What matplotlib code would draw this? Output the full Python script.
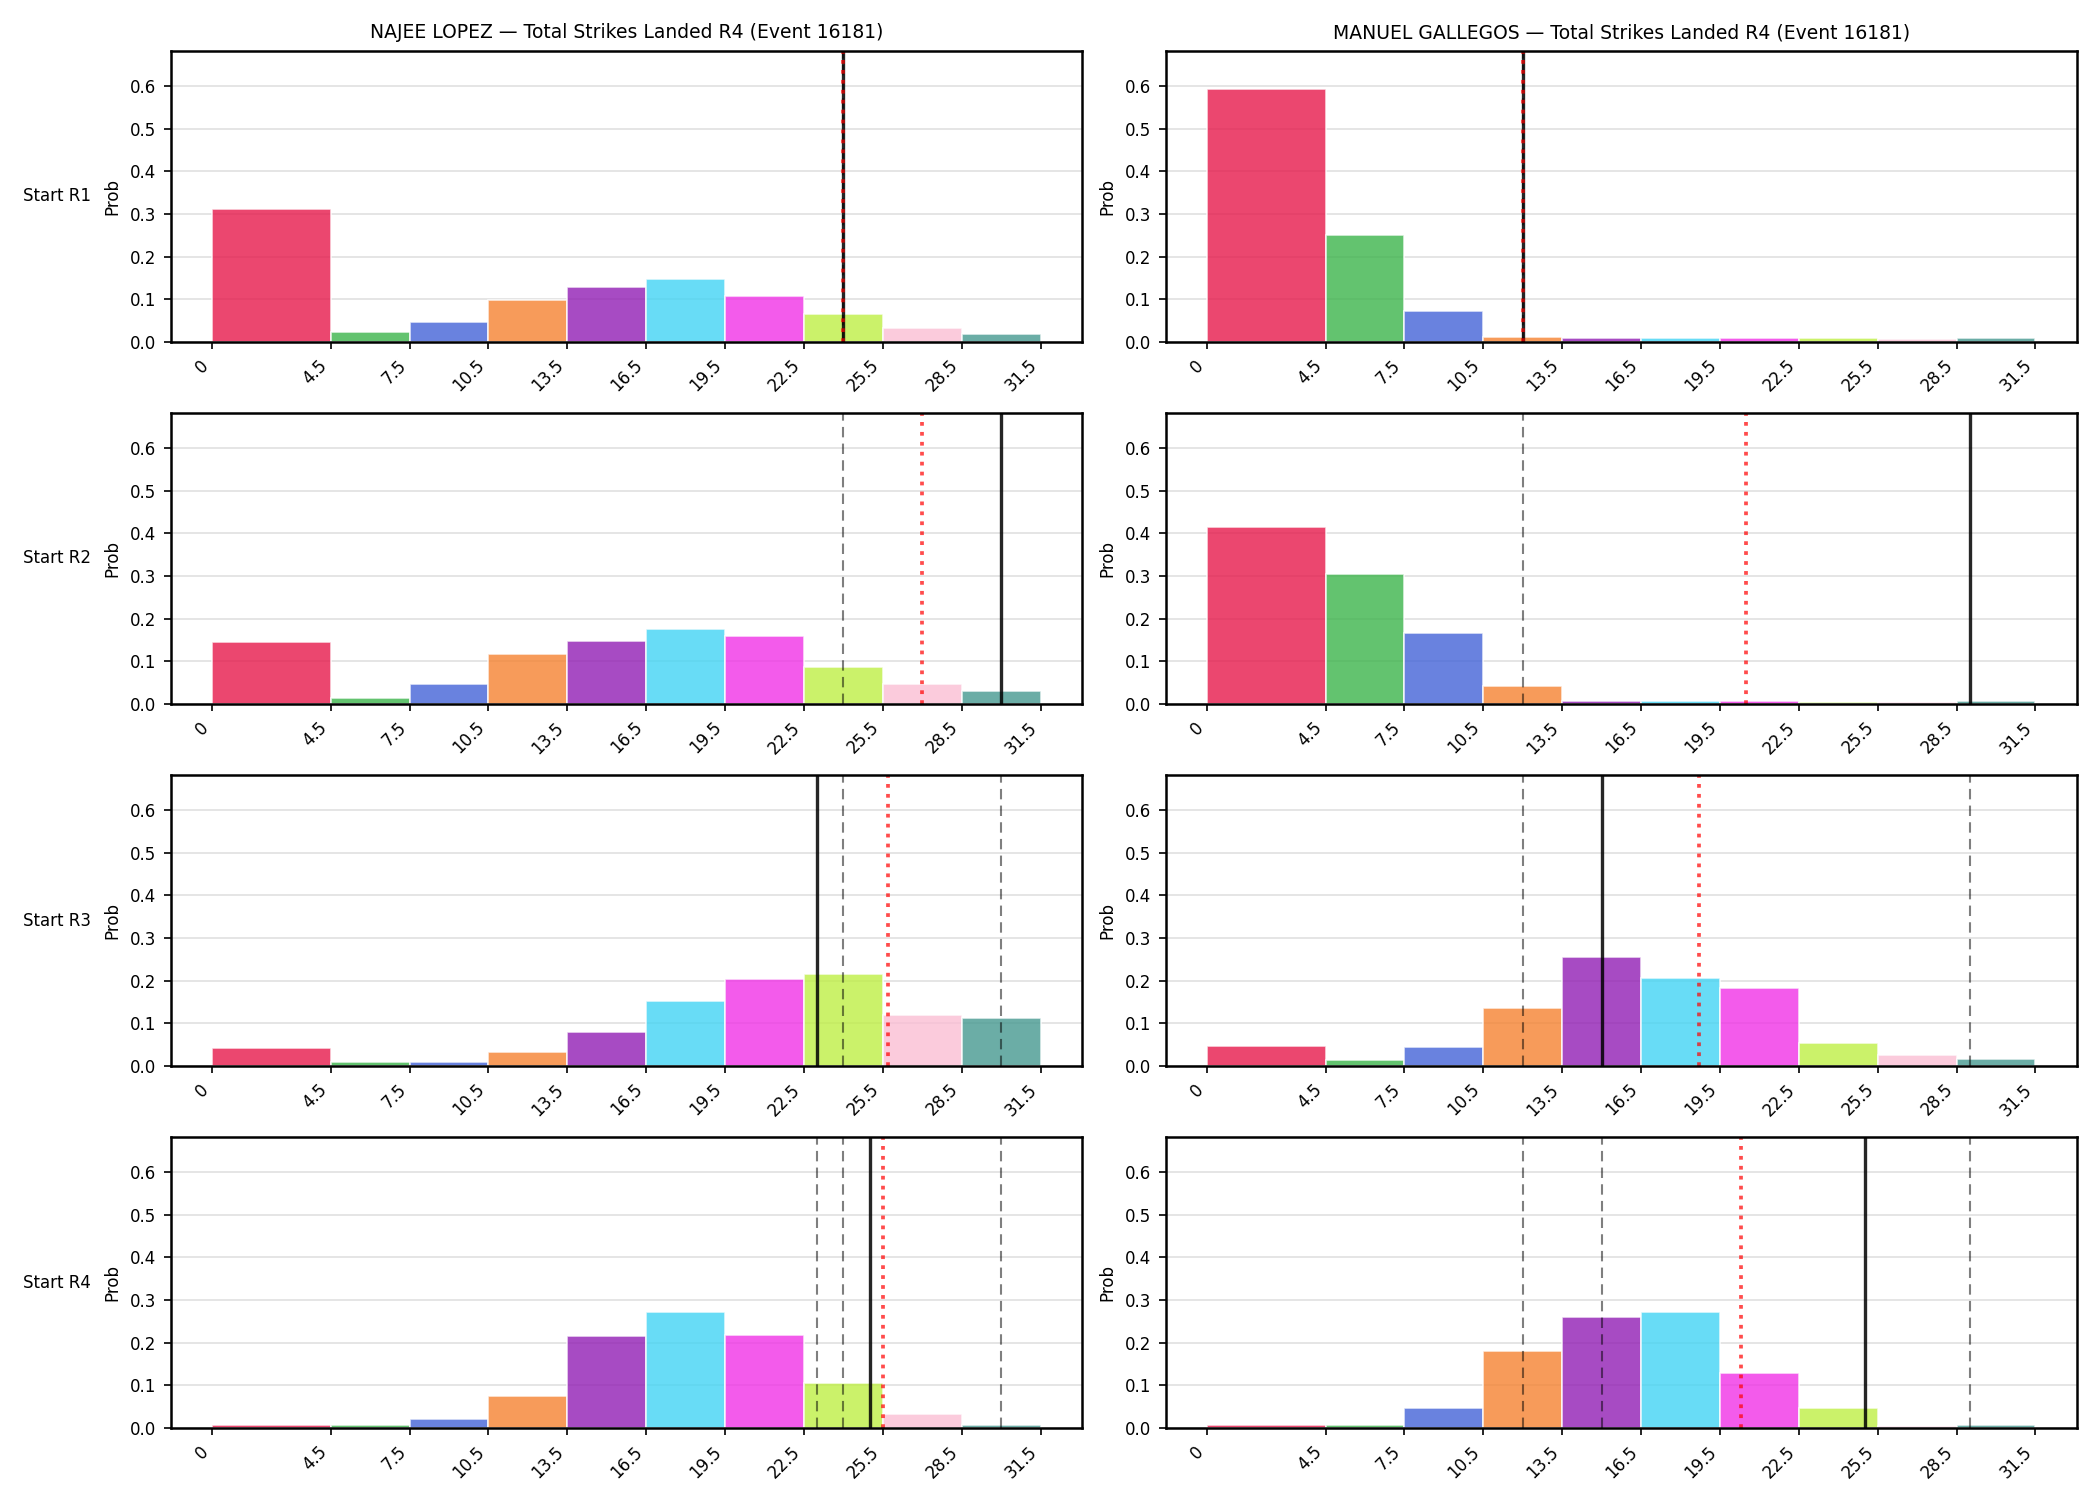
import numpy as np
import matplotlib
matplotlib.use("Agg")
import matplotlib.pyplot as plt

fighters = ["NAJEE LOPEZ", "MANUEL GALLEGOS"]
rows = ["Start R1", "Start R2", "Start R3", "Start R4"]
edges = [0, 4.5, 7.5, 10.5, 13.5, 16.5, 19.5, 22.5, 25.5, 28.5, 31.5]
tick_labels = ["0", "4.5", "7.5", "10.5", "13.5", "16.5", "19.5", "22.5", "25.5", "28.5", "31.5"]
colors = ["#e6194b", "#3cb44b", "#4363d8", "#f58231", "#911eb4",
          "#42d4f4", "#f032e6", "#bfef45", "#fabed4", "#469990"]

# probabilities per bin, [row][fighter]
lopez = [
    [0.311, 0.023, 0.046, 0.099, 0.129, 0.147, 0.107, 0.065, 0.032, 0.019],
    [0.145, 0.013, 0.046, 0.116, 0.148, 0.175, 0.159, 0.086, 0.046, 0.031],
    [0.042, 0.009, 0.009, 0.032, 0.079, 0.152, 0.204, 0.215, 0.119, 0.112],
    [0.006, 0.006, 0.020, 0.076, 0.215, 0.272, 0.218, 0.105, 0.034, 0.006],
]
gallegos = [
    [0.593, 0.251, 0.073, 0.011, 0.009, 0.009, 0.009, 0.008, 0.007, 0.009],
    [0.414, 0.305, 0.166, 0.043, 0.006, 0.006, 0.006, 0.005, 0.004, 0.006],
    [0.046, 0.013, 0.044, 0.135, 0.255, 0.206, 0.182, 0.053, 0.025, 0.016],
    [0.006, 0.006, 0.048, 0.180, 0.260, 0.272, 0.128, 0.048, 0.004, 0.006],
]

# reference lines: current (solid), projected mean (red dotted), earlier (dashed)
lopez_now = [24, 30, 23, 25]
lopez_mean = [24, 27, 25.7, 25.5]
lopez_prev = [[24], [24], [24, 30], [23, 24, 30]]
gallegos_now = [12, 29, 15, 25]
gallegos_mean = [12, 20.5, 18.7, 20.3]
gallegos_prev = [[12], [12], [12, 29], [12, 15, 29]]

data = [lopez, gallegos]
now = [lopez_now, gallegos_now]
mean = [lopez_mean, gallegos_mean]
prev = [lopez_prev, gallegos_prev]

widths = np.diff(edges)
ymax = max(max(max(r) for r in d) for d in data) * 1.15

fig, axes = plt.subplots(4, 2, figsize=(14, 10), dpi=150)
fig.subplots_adjust(left=0.0814, right=0.989, top=0.966, bottom=0.048,
                    wspace=0.092, hspace=0.245)

for j in range(2):
    for i in range(4):
        ax = axes[i, j]
        ax.bar(edges[:-1], data[j][i], width=widths, align="edge",
               color=colors, alpha=0.8, edgecolor="white", linewidth=0.8)
        for x in prev[j][i]:
            ax.axvline(x, color="black", linestyle=(0, (5, 3)), linewidth=1.0, alpha=0.5)
        ax.axvline(now[j][i], color="black", linewidth=1.6, alpha=0.85)
        ax.axvline(mean[j][i], color="red", linestyle=":", linewidth=1.8, alpha=0.7)
        ax.set_ylim(0, ymax)
        ax.set_xticks(edges)
        ax.set_xticklabels(tick_labels, rotation=45, ha="right", fontsize=8)
        ax.set_yticks(np.arange(0, 0.61, 0.1))
        ax.tick_params(axis="y", labelsize=8)
        ax.set_ylabel("Prob", fontsize=8)
        ax.grid(axis="y", color="#e0e0e0", linewidth=0.8)
        ax.set_axisbelow(True)
        for s in ax.spines.values():
            s.set_linewidth(1.2)
        if i == 0:
            ax.set_title(f"{fighters[j]} — Total Strikes Landed R4 (Event 16181)", fontsize=9)

for i in range(4):
    pos = axes[i, 0].get_position()
    fig.text(0.011, (pos.y0 + pos.y1) / 2, rows[i], fontsize=8, ha="left", va="center")

plt.savefig("out.png", dpi=150)
